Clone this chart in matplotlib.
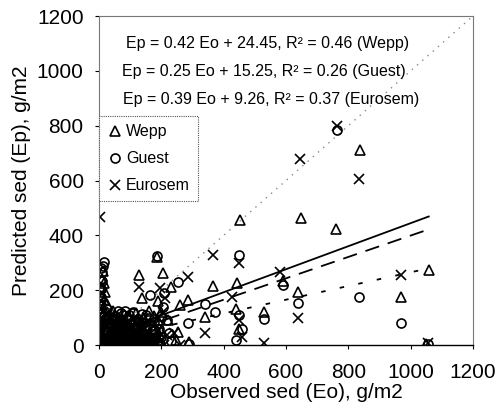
import matplotlib
matplotlib.use("Agg")
import matplotlib.pyplot as plt
import numpy as np

plt.rcParams['font.family'] = ['Liberation Sans', 'DejaVu Sans']

# Observed (Eo) / predicted (Ep) sediment, g/m2
wepp_obs = [1, 2, 3, 4, 5, 6, 7, 8, 10, 12, 4, 6, 9, 11, 14, 16, 18, 20, 24, 28,
            32, 36, 40, 44, 48, 52, 58, 62, 68, 72, 78, 84, 88, 94, 100, 106, 112, 118, 124, 130,
            136, 142, 150, 156, 162, 170, 176, 182, 188, 194, 198, 200, 190, 175, 160, 145, 120, 96, 70, 45,
            25, 15, 129, 138, 206, 186, 261, 286, 254, 367, 444, 341, 453, 528, 589, 640, 647, 762, 836, 968,
            1058, 450, 1050, 440, 230, 290, 220, 248,
            10, 22, 34, 46, 56, 66, 76, 86, 98, 108, 116, 126, 134, 146, 158, 168, 180, 192,
            15, 30, 42, 54, 64, 80, 92, 104, 122, 140, 30, 50, 74, 110]
wepp_pred = [10, 35, 60, 90, 120, 150, 180, 210, 240, 270, 15, 45, 75, 105, 135, 165, 195, 20, 50, 80,
             110, 5, 35, 65, 95, 15, 45, 75, 25, 55, 5, 35, 70, 20, 50, 10, 40, 80, 20, 55,
             10, 35, 70, 20, 45, 10, 60, 30, 90, 15, 120, 50, 160, 105, 125, 100, 115, 105, 95, 125,
             150, 225, 256, 172, 263, 320, 146, 165, 48, 216, 227, 102, 457, 121, 235, 194, 465, 424, 713, 176,
             274, 60, 5, 130, 210, 10, 90, 20,
             4, 12, 28, 8, 32, 12, 22, 55, 6, 28, 18, 40, 28, 8, 30, 25, 12, 40,
             70, 60, 85, 60, 45, 85, 40, 65, 30, 60, 100, 110, 80, 90]

guest_obs = [1, 2, 3, 4, 5, 6, 7, 8, 9, 10, 12, 16, 6, 14, 18, 22, 26, 30, 35, 40,
             46, 52, 58, 64, 70, 76, 82, 88, 95, 102, 108, 114, 120, 126, 132, 138, 141, 148, 154, 160,
             164, 170, 178, 186, 192, 198, 200, 186, 210, 219, 225, 205, 60, 85, 110, 286, 289, 341, 373, 450,
             450, 440, 528, 589, 640, 765, 833, 968, 1055, 460, 230, 255,
             12, 24, 36, 48, 60, 72, 84, 96, 108, 120, 132, 144, 156, 168, 180, 195,
             20, 40, 66, 90, 116, 150, 175, 15, 50, 78, 100, 130]
guest_pred = [5, 30, 55, 85, 115, 145, 175, 205, 235, 265, 290, 304, 280, 20, 50, 95, 130, 10, 40, 70,
              100, 20, 55, 90, 115, 10, 40, 75, 110, 30, 118, 60, 15, 95, 45, 112, 26, 70, 5, 100,
              183, 40, 85, 15, 60, 105, 30, 325, 190, 91, 45, 140, 125, 125, 120, 80, 4, 150, 121, 330,
              110, 20, 95, 220, 155, 785, 176, 80, 3, 60, 15, 230,
              8, 25, 5, 22, 35, 8, 20, 45, 8, 30, 10, 40, 25, 10, 30, 5,
              60, 90, 75, 95, 88, 110, 55, 105, 105, 110, 80, 75]

euro_obs = [1, 2, 3, 4, 5, 6, 8, 9, 11, 3, 14, 18, 22, 26, 30, 36, 42, 48, 54, 60,
            66, 72, 78, 84, 90, 96, 102, 108, 114, 120, 128, 134, 129, 140, 148, 156, 164, 172, 180, 188,
            196, 200, 205, 212, 190, 219, 261, 286, 341, 367, 428, 450, 450, 460, 528, 582, 640, 646, 765, 833,
            968, 1055, 240, 210,
            8, 20, 32, 44, 56, 68, 80, 92, 104, 116, 128, 140, 152, 164, 176, 188,
            12, 28, 40, 62, 86, 110, 136, 160]
euro_pred = [0, 25, 50, 75, 100, 130, 160, 190, 220, 468, 8, 35, 65, 90, 25, 55, 5, 40, 80, 15,
             50, 30, 65, 10, 45, 25, 70, 5, 35, 55, 15, 85, 212, 30, 60, 5, 40, 20, 75, 50,
             209, 15, 120, 170, 100, 37, 0, 249, 44, 329, 176, 300, 90, 30, 7, 267, 99, 677, 800, 604,
             256, 8, 45, 0,
             15, 5, 20, 2, 28, 10, 18, 30, 15, 3, 25, 10, 35, 18, 5, 25,
             120, 85, 60, 90, 70, 95, 65, 85]

# fitted lines: slope, intercept
wepp_fit = (0.42, 24.45)
guest_fit = (0.25, 15.25)
euro_fit = (0.39, 9.26)

equations = ["Ep = 0.42 Eo + 24.45, R\u00b2 = 0.46 (Wepp)",
             "Ep = 0.25 Eo + 15.25, R\u00b2 = 0.26 (Guest)",
             "Ep = 0.39 Eo + 9.26, R\u00b2 = 0.37 (Eurosem)"]

fig = plt.figure(figsize=(4.97, 4.12), dpi=100)
ax = fig.add_axes([0.1992, 0.1626, 0.7525, 0.7985])

# 1:1 line
ax.plot([0, 1200], [0, 1200], color='#888888', linestyle=(0, (1, 4)), linewidth=1)

mk = dict(linestyle='none', markerfacecolor='none', markeredgecolor='black', markeredgewidth=1.2)
ax.plot(wepp_obs, wepp_pred, marker='^', markersize=6.5, label='Wepp', **mk)
ax.plot(guest_obs, guest_pred, marker='o', markersize=6.5, label='Guest', **mk)
ax.plot(euro_obs, euro_pred, marker='x', markersize=6.5, label='Eurosem', **mk)

xmax = max(wepp_obs)
xs = np.array([0, xmax])
ax.plot(xs, wepp_fit[0] * xs + wepp_fit[1], color='black', linewidth=1.3)
ax.plot(xs, euro_fit[0] * xs + euro_fit[1], color='black', linewidth=1.3, linestyle=(0, (8, 5)))
ax.plot(xs, guest_fit[0] * xs + guest_fit[1], color='black', linewidth=1.3, linestyle=(0, (2.5, 8)))

for i, eq in enumerate(equations):
    ax.text([0.45, 0.44, 0.46][i], 0.915 - i * 0.085, eq, transform=ax.transAxes,
            ha='center', va='center', fontsize=11.5)

ax.set_xlim(0, 1200)
ax.set_ylim(0, 1200)
ax.set_xticks(range(0, 1201, 200))
ax.set_yticks(range(0, 1201, 200))
ax.tick_params(labelsize=15, length=3, width=0.8)
ax.tick_params(axis='x', pad=10)
ax.tick_params(axis='y', pad=8)

ax.set_xlabel('Observed sed (Eo), g/m2', fontsize=15, labelpad=1)
ax.set_ylabel('Predicted sed (Ep), g/m2', fontsize=15, labelpad=4)

for s in ['top', 'right', 'left']:
    ax.spines[s].set_linestyle((0, (1, 1)))
    ax.spines[s].set_color('#777777')
    ax.spines[s].set_linewidth(0.8)
ax.spines['bottom'].set_linewidth(1.0)

leg = ax.legend(loc='upper left', bbox_to_anchor=(0.0, 0.695), fontsize=11.5,
                fancybox=False, framealpha=1, edgecolor='#555555',
                handletextpad=0.2, handlelength=1.0, labelspacing=0.75, borderpad=0.5,
                borderaxespad=0.0)
leg.get_frame().set_linestyle((0, (1, 1)))
leg.get_frame().set_linewidth(0.8)

fig.savefig('out.png', dpi=100)
